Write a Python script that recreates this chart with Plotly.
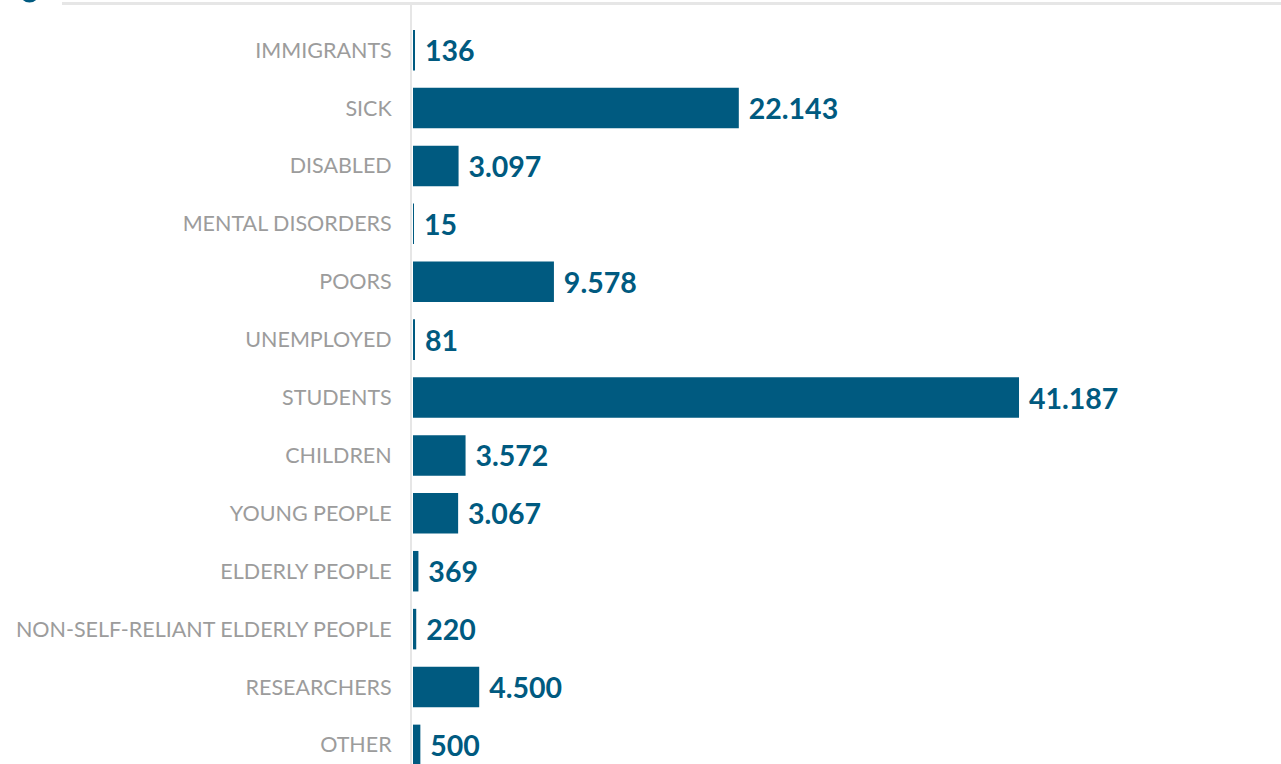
import plotly.graph_objects as go

# categories top to bottom
categories = [
    "IMMIGRANTS", "SICK", "DISABLED", "MENTAL DISORDERS", "POORS",
    "UNEMPLOYED", "STUDENTS", "CHILDREN", "YOUNG PEOPLE", "ELDERLY PEOPLE",
    "NON-SELF-RELIANT ELDERLY PEOPLE", "RESEARCHERS", "OTHER",
]
values = [136, 22143, 3097, 15, 9578, 81, 41187, 3572, 3067, 369, 220, 4500, 500]

BAR_COLOR = "#005a80"
LABEL_GREY = "#9c9c9c"
LINE_GREY = "#e6e6e6"

# thousands separator is a dot in the original
labels = [" " + f"{v:,}".replace(",", ".") for v in values]

fig = go.Figure()
fig.add_trace(
    go.Bar(
        x=values,
        y=categories,
        orientation="h",
        marker=dict(color=BAR_COLOR, line=dict(width=0)),
        width=0.7,
        text=labels,
        textposition="outside",
        cliponaxis=False,
        textfont=dict(family="Lato", size=28.5, color=BAR_COLOR, weight="bold"),
        hoverinfo="skip",
    )
)

fig.update_layout(
    width=1281,
    height=764,
    margin=dict(l=412, r=0, t=5, b=0),
    paper_bgcolor="white",
    plot_bgcolor="white",
    showlegend=False,
    font=dict(family="Lato"),
    xaxis=dict(
        range=[-68, 58992],  # small gap between the axis line and the bars
        showgrid=False,
        zeroline=False,
        showticklabels=False,
        showline=False,
    ),
    yaxis=dict(
        type="category",
        range=[12.33, -0.78],
        showgrid=False,
        zeroline=False,
        showline=True,
        linecolor=LINE_GREY,
        linewidth=2,
        ticks="",
        ticklabelstandoff=14,
        tickfont=dict(family="Lato", size=21.5, color=LABEL_GREY),
    ),
    shapes=[
        # header rule across the top
        dict(type="line", xref="paper", yref="paper",
             x0=(62 - 412) / 869, x1=1.0, y0=1.002, y1=1.002,
             line=dict(color=LINE_GREY, width=3)),
        # bottom of the header icon that is cut off
        dict(type="circle", xref="paper", yref="paper",
             x0=(21 - 412) / 869, x1=(38 - 412) / 869,
             y0=1 + 4 / 759, y1=1 + 21 / 759,
             line=dict(color=BAR_COLOR, width=3)),
    ],
)

# page has no body margin in the original screenshot
fig.write_html(
    "out.html",
    config={"displayModeBar": False},
    post_script="document.body.style.margin='0';",
)
